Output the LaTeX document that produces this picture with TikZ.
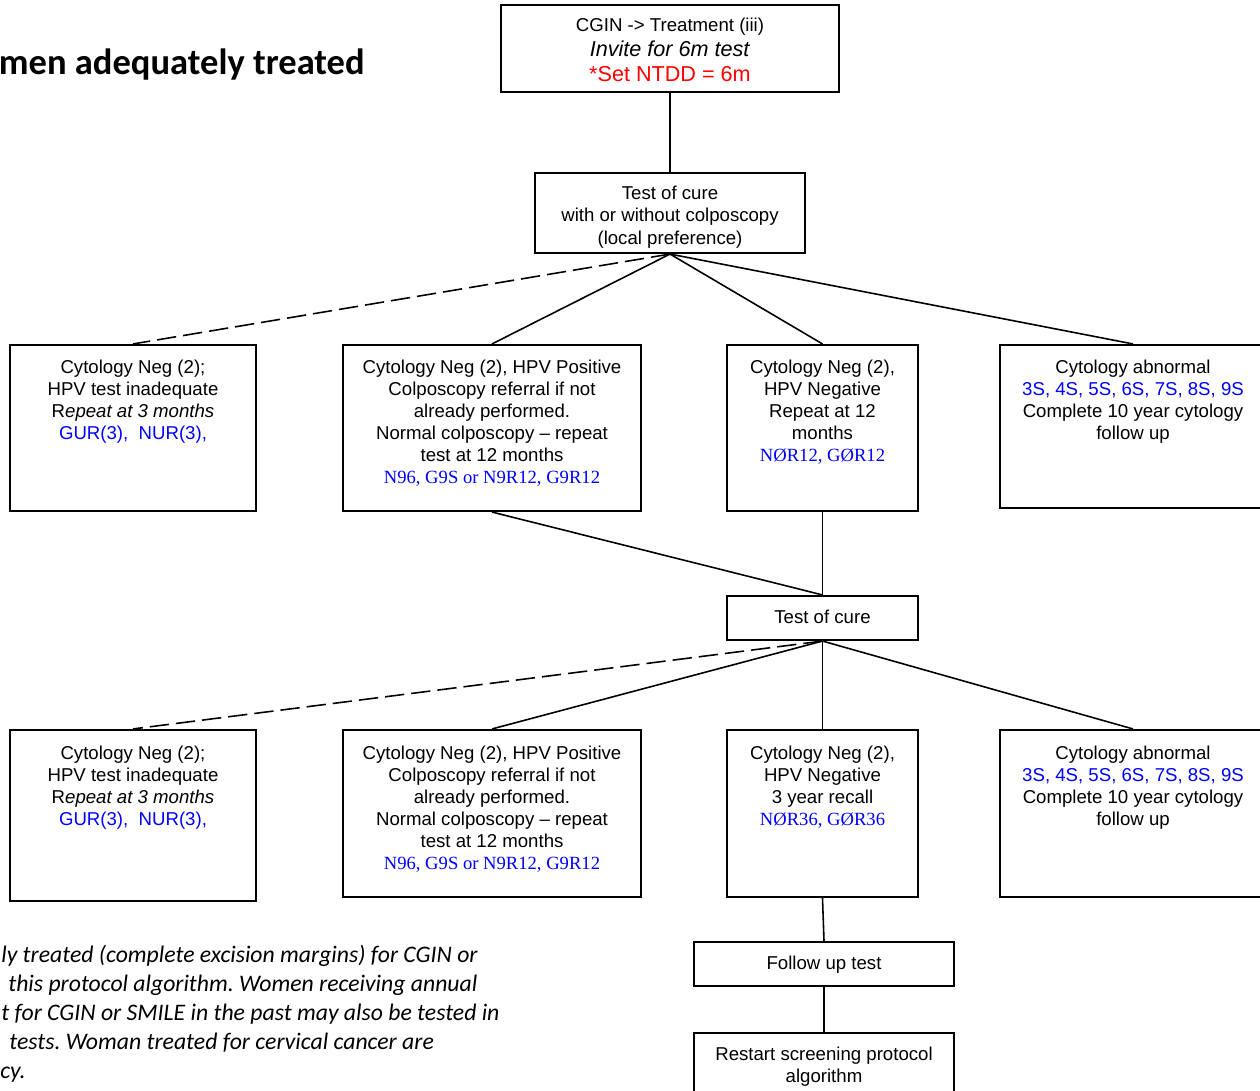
\documentclass[tikz,border=0pt]{standalone}
\usepackage{fontspec}
\setmainfont{Liberation Sans}
\newfontfamily\serifont{Liberation Serif}
\newfontfamily\calfont{Carlito}
\usetikzlibrary{fit}
\frenchspacing
\tikzset{
  bx/.style={draw, line width=1.2pt, inner sep=0pt},
  tx/.style={anchor=north, align=center, inner sep=0pt, font=\fontsize{10.6pt}{12.6pt}\selectfont},
  ln/.style={line width=0.9pt},
  dln/.style={line width=0.9pt, dash pattern=on 11pt off 4pt},
}
\newcommand{\sr}[1]{{\serifont\fontsize{10.6pt}{12.6pt}\selectfont #1}}
\newcommand{\toplarge}[1]{{\fontsize{12.3pt}{14.2pt}\selectfont #1}}
\begin{document}
\begin{tikzpicture}[x=0.02cm,y=-0.02cm]
\clip (0,0) rectangle (1260,1091);
\fill[white] (0,0) rectangle (1260,1091);
% title
\node[anchor=base east, inner sep=0pt, font=\calfont\bfseries\fontsize{20.8pt}{24pt}\selectfont] (title) at (365,75) {men adequately treated};
% boxes
\node[bx, fit={(501,5)(839,92)}] (top) {};
\node[bx, fit={(535,173)(805,253)}] (toc1) {};
\node[bx, fit={(10,345)(256,511)}] (a1) {};
\node[bx, fit={(343,345)(641,511)}] (b1) {};
\node[bx, fit={(727,345)(918,511)}] (c1) {};
\node[bx, fit={(1000,345)(1266,508)}] (d1) {};
\node[bx, fit={(727,596)(918,640)}] (toc2) {};
\node[bx, fit={(10,730)(256,901)}] (a2) {};
\node[bx, fit={(343,730)(641,897)}] (b2) {};
\node[bx, fit={(727,730)(918,897)}] (c2) {};
\node[bx, fit={(1000,730)(1266,897)}] (d2) {};
\node[bx, fit={(694,942)(954,986)}] (fu) {};
\node[bx, fit={(694,1033)(954,1110)}] (rs) {};
% texts
\node[tx, font=\fontsize{10.6pt}{14.2pt}\selectfont] (topt) at ([yshift=-0.2cm]top.north)
 {\strut CGIN -> Treatment (iii)\\ \toplarge{\textit{Invite for 6m test}}\\ \toplarge{\textcolor{red}{*Set NTDD = 6m}}};
\node[tx] (toc1t) at ([yshift=-0.24cm]toc1.north)
 {\strut Test of cure\\ with or without colposcopy\\ (local preference)};
\node[tx] (a1t) at ([yshift=-0.27cm]a1.north)
 {\strut Cytology Neg (2);\\ HPV test inadequate\\ R\textit{epeat at 3 months}\\ \textcolor{blue}{GUR(3),\ \ NUR(3),}};
\node[tx] (b1t) at ([yshift=-0.27cm]b1.north)
 {\strut Cytology Neg (2), HPV Positive\\ Colposcopy referral if not\\ already performed.\\ Normal colposcopy -- repeat\\ test at 12 months\\ \textcolor{blue}{\sr{N96, G9S or N9R12, G9R12}}};
\node[tx] (c1t) at ([yshift=-0.27cm]c1.north)
 {\strut Cytology Neg (2),\\ HPV Negative\\ Repeat at 12\\ months\\ \textcolor{blue}{\sr{NØR12, GØR12}}};
\node[tx] (d1t) at ([yshift=-0.27cm]d1.north)
 {\strut Cytology abnormal\\ \textcolor{blue}{3S, 4S, 5S, 6S, 7S, 8S, 9S}\\ Complete 10 year cytology\\ follow up};
\node[tx] (toc2t) at ([yshift=-0.26cm]toc2.north) {\strut Test of cure};
\node[tx] (a2t) at ([yshift=-0.29cm]a2.north)
 {\strut Cytology Neg (2);\\ HPV test inadequate\\ R\textit{epeat at 3 months}\\ \textcolor{blue}{GUR(3),\ \ NUR(3),}};
\node[tx] (b2t) at ([yshift=-0.29cm]b2.north)
 {\strut Cytology Neg (2), HPV Positive\\ Colposcopy referral if not\\ already performed.\\ Normal colposcopy -- repeat\\ test at 12 months\\ \textcolor{blue}{\sr{N96, G9S or N9R12, G9R12}}};
\node[tx] (c2t) at ([yshift=-0.29cm]c2.north)
 {\strut Cytology Neg (2),\\ HPV Negative\\ 3 year recall\\ \textcolor{blue}{\sr{NØR36, GØR36}}};
\node[tx] (d2t) at ([yshift=-0.29cm]d2.north)
 {\strut Cytology abnormal\\ \textcolor{blue}{3S, 4S, 5S, 6S, 7S, 8S, 9S}\\ Complete 10 year cytology\\ follow up};
\node[tx] (fut) at ([yshift=-0.26cm]fu.north) {\strut Follow up test};
\node[tx] (rst) at ([yshift=-0.26cm]rs.north) {\strut Restart screening protocol\\ algorithm};
% note text
\begin{scope}[every node/.style={anchor=base west, inner sep=0pt, font=\calfont\itshape\fontsize{13.5pt}{16pt}\selectfont}]
\node (n1) at (1,962) {ly treated (complete excision margins) for CGIN or};
\node (n2) at (8,991) {this protocol algorithm. Women receiving annual};
\node (n3) at (1,1020) {t for CGIN or SMILE in the past may also be tested in};
\node (n4) at (9,1049) {tests. Woman treated for cervical cancer are};
\node (n5) at (0,1078) {cy.};
\end{scope}
% connectors
\draw[ln] (top.south) -- (toc1.north);
\draw[dln] (toc1.south) -- (a1.north);
\draw[ln] (toc1.south) -- (b1.north);
\draw[ln] (toc1.south) -- (c1.north);
\draw[ln] (toc1.south) -- (d1.north);
\draw[ln] (b1.south) -- (toc2.north);
\draw[ln] (c1.south) -- (toc2.north);
\draw[dln] (toc2.south) -- (a2.north);
\draw[ln] (toc2.south) -- (b2.north);
\draw[ln] (toc2.south) -- (c2.north);
\draw[ln] (toc2.south) -- (d2.north);
\draw[ln] (c2.south) -- (fu.north);
\draw[ln] (fu.south) -- (rs.north);
\end{tikzpicture}
\end{document}
